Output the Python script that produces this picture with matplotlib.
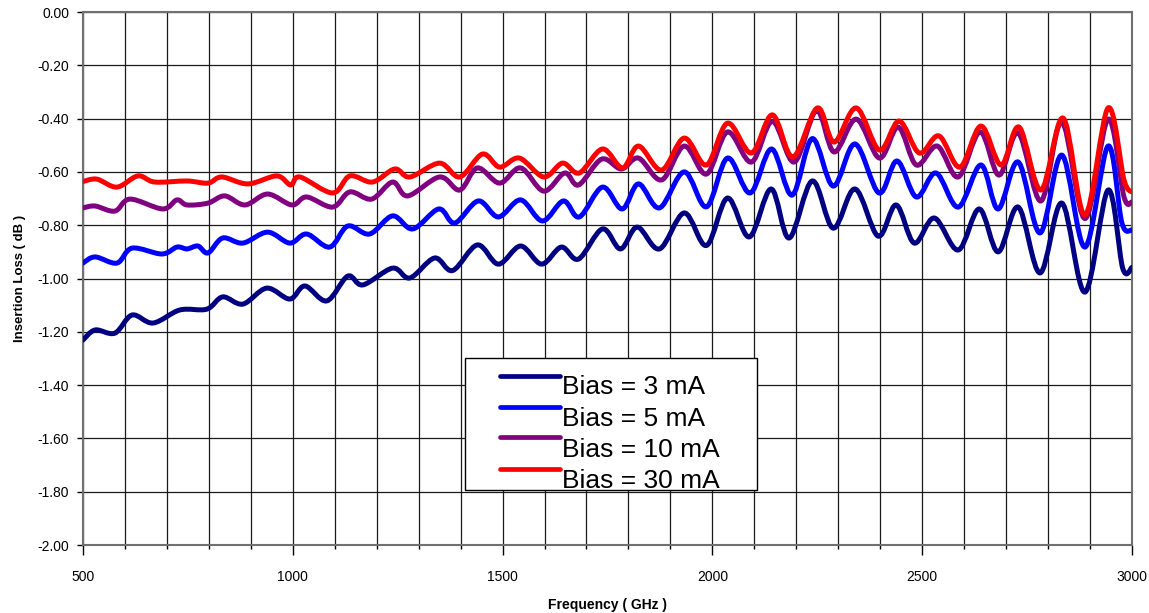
import numpy as np
import matplotlib
matplotlib.use("Agg")
import matplotlib.pyplot as plt
from matplotlib.path import Path
from matplotlib.patches import PathPatch, Rectangle
from matplotlib.lines import Line2D
from matplotlib.ticker import MultipleLocator, FormatStrFormatter

plt.rcParams.update({"font.family": ["Liberation Sans", "DejaVu Sans"],
                     "axes.unicode_minus": False})

# ---------- data (GHz, dB) ----------
f_3ma = [500, 529, 576, 617, 667, 731, 795, 833, 881, 938, 993, 1029, 1081, 1131,
         1167, 1238, 1279, 1338, 1381, 1440, 1490, 1543, 1593, 1640, 1681, 1738,
         1781, 1821, 1874, 1933, 1986, 2036, 2088, 2140, 2183, 2238, 2288, 2340,
         2395, 2438, 2481, 2529, 2586, 2636, 2681, 2729, 2781, 2833, 2888, 2943,
         2978, 3000]
il_3ma = [-1.231, -1.193, -1.205, -1.137, -1.167, -1.118, -1.115, -1.069, -1.096,
          -1.036, -1.077, -1.028, -1.084, -0.991, -1.024, -0.961, -0.998, -0.923,
          -0.970, -0.874, -0.946, -0.878, -0.946, -0.882, -0.927, -0.814, -0.889,
          -0.807, -0.889, -0.754, -0.876, -0.698, -0.844, -0.664, -0.848, -0.634,
          -0.811, -0.664, -0.841, -0.724, -0.867, -0.773, -0.893, -0.739, -0.900,
          -0.732, -0.979, -0.717, -1.051, -0.668, -0.962, -0.958]

f_5ma = [500, 529, 581, 617, 688, 724, 748, 774, 798, 833, 881, 940, 993, 1033,
         1088, 1131, 1183, 1238, 1286, 1348, 1386, 1442, 1490, 1543, 1595, 1645,
         1683, 1738, 1785, 1824, 1874, 1933, 1986, 2036, 2090, 2141, 2190, 2238,
         2288, 2340, 2397, 2440, 2486, 2533, 2586, 2640, 2681, 2729, 2781, 2833,
         2888, 2943, 2976, 3000]
il_5ma = [-0.942, -0.919, -0.942, -0.886, -0.908, -0.882, -0.889, -0.878, -0.904,
          -0.848, -0.867, -0.826, -0.867, -0.833, -0.882, -0.803, -0.833, -0.765,
          -0.814, -0.739, -0.792, -0.709, -0.769, -0.705, -0.784, -0.709, -0.769,
          -0.657, -0.739, -0.645, -0.735, -0.600, -0.731, -0.548, -0.679, -0.514,
          -0.687, -0.475, -0.653, -0.495, -0.679, -0.559, -0.694, -0.604, -0.732,
          -0.574, -0.739, -0.563, -0.829, -0.537, -0.882, -0.503, -0.792, -0.818]

f_10ma = [500, 529, 576, 612, 690, 724, 748, 798, 838, 886, 940, 998, 1033, 1095,
          1136, 1188, 1238, 1274, 1350, 1398, 1440, 1493, 1543, 1598, 1648, 1681,
          1736, 1783, 1824, 1879, 1933, 1986, 2036, 2093, 2143, 2195, 2248, 2290,
          2343, 2398, 2443, 2486, 2536, 2586, 2638, 2683, 2729, 2783, 2833, 2888,
          2943, 2981, 3000]
il_10ma = [-0.735, -0.728, -0.747, -0.702, -0.739, -0.705, -0.724, -0.717, -0.690,
           -0.724, -0.683, -0.724, -0.694, -0.732, -0.675, -0.702, -0.638, -0.690,
           -0.619, -0.668, -0.585, -0.642, -0.585, -0.672, -0.604, -0.649, -0.552,
           -0.589, -0.548, -0.630, -0.503, -0.608, -0.450, -0.563, -0.410, -0.563,
           -0.370, -0.525, -0.402, -0.548, -0.432, -0.574, -0.503, -0.619, -0.450,
           -0.612, -0.454, -0.709, -0.413, -0.775, -0.402, -0.694, -0.713]

f_30ma = [500, 533, 581, 631, 671, 748, 798, 831, 893, 962, 995, 1017, 1095, 1136,
          1190, 1243, 1279, 1350, 1398, 1452, 1493, 1540, 1598, 1643, 1683, 1738,
          1786, 1824, 1879, 1933, 1986, 2036, 2093, 2143, 2192, 2250, 2290, 2343,
          2398, 2445, 2493, 2540, 2590, 2640, 2688, 2731, 2783, 2836, 2888, 2943,
          2981, 3000]
il_30ma = [-0.636, -0.627, -0.657, -0.615, -0.638, -0.634, -0.642, -0.619, -0.645,
           -0.615, -0.649, -0.619, -0.679, -0.615, -0.638, -0.589, -0.619, -0.567,
           -0.619, -0.533, -0.582, -0.548, -0.619, -0.567, -0.604, -0.514, -0.585,
           -0.503, -0.593, -0.473, -0.574, -0.417, -0.529, -0.386, -0.544, -0.360,
           -0.488, -0.360, -0.518, -0.409, -0.529, -0.465, -0.582, -0.428, -0.574,
           -0.432, -0.668, -0.398, -0.762, -0.360, -0.630, -0.675]

labels = ["Bias = 3 mA", "Bias = 5 mA", "Bias = 10 mA", "Bias = 30 mA"]
colors = ["#000080", "#0000FF", "#800080", "#FF0000"]
series = [(f_3ma, il_3ma), (f_5ma, il_5ma), (f_10ma, il_10ma), (f_30ma, il_30ma)]


def smooth_path(x, y):
    # Excel-style smoothed line: cubic Bezier through every point
    p = np.column_stack([x, y]).astype(float)
    verts, codes = [p[0]], [Path.MOVETO]
    for i in range(len(p) - 1):
        p0 = p[i - 1] if i > 0 else p[i]
        p3 = p[i + 2] if i + 2 < len(p) else p[i + 1]
        verts += [p[i] + (p[i + 1] - p0) / 6, p[i + 1] - (p3 - p[i]) / 6, p[i + 1]]
        codes += [Path.CURVE4] * 3
    return Path(verts, codes)


fig = plt.figure(figsize=(11.49, 6.13), dpi=100)
ax = fig.add_axes([0.0722, 0.1109, 0.913, 0.8695])

for (x, y), c in zip(series, colors):
    ax.add_patch(PathPatch(smooth_path(x, y), fill=False, edgecolor=c, lw=3.6,
                           capstyle="round", joinstyle="round", zorder=3))

ax.set_xlim(500, 3000)
ax.set_ylim(-2.0, 0.0)
ax.xaxis.set_major_locator(MultipleLocator(500))
ax.xaxis.set_minor_locator(MultipleLocator(100))
ax.yaxis.set_major_locator(MultipleLocator(0.2))
ax.yaxis.set_major_formatter(FormatStrFormatter("%.2f"))
ax.grid(True, which="both", axis="x", color="#1a1a1a", lw=0.9)
ax.grid(True, which="major", axis="y", color="#1a1a1a", lw=0.9)
ax.set_axisbelow(True)
ax.tick_params(axis="x", which="major", length=7, width=1, pad=11, labelsize=10)
ax.tick_params(axis="x", which="minor", length=3, width=1)
ax.tick_params(axis="y", length=4, width=1, pad=6, labelsize=10)
for s in ax.spines.values():
    s.set_color("#707070")
    s.set_linewidth(1.5)

ax.set_xlabel("Frequency ( GHz )", fontsize=10, fontweight="bold", labelpad=10)
ax.set_ylabel("Insertion Loss ( dB )", fontsize=9.5, fontweight="bold", labelpad=8)

# legend box drawn by hand to keep Excel's offset between line and text
ax.add_patch(Rectangle((0.364, 0.103), 0.279, 0.248, transform=ax.transAxes,
                       facecolor="white", edgecolor="black", lw=1, zorder=4))
line_y = [0.3176, 0.2595, 0.2021, 0.142]
text_y = [0.2827, 0.2238, 0.1657, 0.1075]
for lab, c, ly, ty in zip(labels, colors, line_y, text_y):
    ax.add_line(Line2D([0.3975, 0.4547], [ly, ly], transform=ax.transAxes,
                       color=c, lw=3.4, solid_capstyle="round", zorder=5))
    ax.text(0.4563, ty, lab, transform=ax.transAxes, fontsize=19,
            va="baseline", ha="left", zorder=5)

fig.savefig("out.png", dpi=100)
